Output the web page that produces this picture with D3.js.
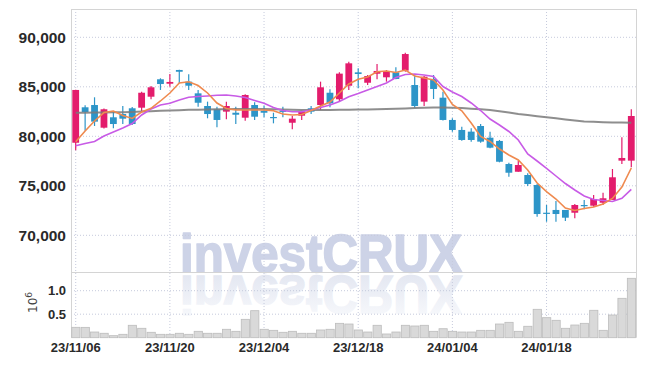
<!DOCTYPE html>
<html><head><meta charset="utf-8">
<script src="https://cdn.jsdelivr.net/npm/d3@7"></script>
<style>body{margin:0;background:#fff}svg{display:block}</style>
</head><body>
<svg id="c" width="645" height="366"></svg>
<script>
const dates = ["23/11/06","23/11/07","23/11/08","23/11/09","23/11/10","23/11/13","23/11/14","23/11/15","23/11/16","23/11/17",
"23/11/20","23/11/21","23/11/22","23/11/23","23/11/24","23/11/27","23/11/28","23/11/29","23/11/30",
"23/12/01","23/12/04","23/12/05","23/12/06","23/12/07","23/12/08","23/12/11","23/12/12","23/12/13","23/12/14","23/12/15",
"23/12/18","23/12/19","23/12/20","23/12/21","23/12/22","23/12/26","23/12/27","23/12/28",
"24/01/02","24/01/03","24/01/04","24/01/05","24/01/08","24/01/09","24/01/10","24/01/11","24/01/12",
"24/01/15","24/01/16","24/01/17","24/01/18","24/01/19","24/01/22","24/01/23","24/01/24","24/01/25","24/01/26",
"24/01/29","24/01/30","24/01/31"];
const open  = [79350,82930,83160,80870,81920,82250,82830,82890,84000,85760,85310,86700,85520,84340,83060,82730,82490,82380,81880,83160,
82590,81950,82590,81370,82080,82830,83160,84400,83740,85110,86460,85410,86320,85960,86460,86630,85180,83500,85790,83900,
81650,80640,80470,81040,79860,79530,77200,76420,76090,75080,72280,72560,72560,72280,73060,72990,73290,73570,77540,77540];
const high  = [84700,83130,83940,82800,82560,83060,82960,84500,85080,85860,86290,86720,86260,84680,83500,82990,83500,82990,84240,83430,
83090,82380,82990,82050,82590,83060,85520,84750,86470,87540,86870,86190,87300,86700,86970,88440,86190,86090,86190,84500,
81820,80970,80810,81240,80460,79630,77330,77540,76260,75180,73060,73470,72560,73160,73570,74070,74300,76700,79900,82730];
const low   = [78600,80570,81040,80800,80810,81240,81140,82480,83740,84680,85010,85350,84680,82990,81820,80910,81720,81240,81580,81650,
81920,81310,81920,80710,81650,82250,82660,82930,83500,84680,84850,85180,85760,85520,85760,86520,82890,83060,83770,81600,
80460,79560,79460,79350,78790,77370,75920,76420,74980,71880,71370,71370,71440,71720,72630,72890,73060,73570,77200,76870];
const close = [84680,82450,81480,82730,81240,81780,81240,84400,84950,85280,85490,86520,85110,83390,82250,81650,83060,82180,84170,81980,
82380,81900,82460,81780,82460,82490,84950,83330,86330,87370,86290,86090,86600,86530,85790,88310,83060,86020,84780,81650,
80640,79630,79630,79460,78850,77430,76320,77100,75180,72150,72180,72150,71780,73060,72990,73670,73740,75860,77810,82050];
const volume = [0.221,0.22,0.121,0.094,0.043,0.072,0.264,0.2,0.115,0.072,0.072,0.094,0.072,0.136,0.094,0.094,0.179,0.136,0.391,0.575,
0.179,0.157,0.115,0.136,0.094,0.094,0.164,0.179,0.306,0.291,0.164,0.121,0.264,0.079,0.121,0.264,0.249,0.264,0.136,0.191,
0.136,0.121,0.121,0.157,0.157,0.291,0.327,0.136,0.243,0.604,0.426,0.37,0.2,0.27,0.306,0.583,0.157,0.483,0.838,1.264];
const maShort = [79450,80540,81545,82400,82556,82100,81800,82455,82828,83566,84374,85384,85515,85131,84374,83364,82808,82657,82657,82657,
82657,82586,82253,82151,82202,82606,83061,83465,84374,85283,85758,85990,86525,86596,86444,86697,86091,85889,85687,84677,
83212,82576,81343,79980,79475,78717,78111,77606,76596,75283,74404,73667,72758,72505,72707,72859,73162,73717,74879,76798];
const maMid = [79050,79273,79475,80030,80434,80838,81293,82151,82758,83162,83333,83667,83939,84020,84071,84141,84172,84071,83919,83616,
83333,82909,82606,82485,82485,82657,82909,83162,83515,84000,84323,84677,85030,85384,85939,86242,86293,86192,86040,85030,
84475,84020,83364,82606,81747,81141,80485,79626,78212,77505,76768,75990,75232,74576,73970,73616,73515,73414,73737,74646];
const maLong = [82380,82390,82400,82410,82420,82430,82460,82500,82540,82580,82610,82640,82670,82690,82710,82730,82740,82750,82760,82760,
82760,82740,82710,82680,82660,82650,82650,82660,82680,82690,82700,82710,82730,82760,82790,82820,82850,82880,82900,82900,
82890,82850,82790,82730,82660,82530,82400,82250,82140,82030,81920,81820,81700,81600,81500,81460,81430,81400,81390,81380];
const priceTicks = [70000,75000,80000,85000,90000];
const volTicks = [0.5,1.0];
const dateTicks = ["23/11/06","23/11/20","23/12/04","23/12/18","24/01/04","24/01/18"];

const L=71, R=636, T=9, PB=272, VB=337.7;
const svg = d3.select("#c");
const x = d3.scaleBand().domain(dates).range([L,R]).padding(0);
const bw = x.bandwidth();
const cx = d => x(d) + bw/2;
const y = d3.scaleLinear().domain([70000,90000]).range([235.3,37.3]);
const yv = d3.scaleLinear().domain([0,1]).range([VB,290.7]);

const defs = svg.append("defs");
defs.append("clipPath").attr("id","pc").append("rect").attr("x",L).attr("y",T).attr("width",R-L).attr("height",PB-T);
const g = defs.append("linearGradient").attr("id","refl").attr("x1",0).attr("y1",1).attr("x2",0).attr("y2",0);
g.append("stop").attr("offset","0%").attr("stop-color","#dfe3ef");
g.append("stop").attr("offset","100%").attr("stop-color","#fafbfd");

// watermark
const wm = svg.append("g");
wm.append("text").attr("x",180).attr("y",272).text("investCRUX")
  .attr("font-family","'Liberation Sans',Arial,sans-serif").attr("font-weight","bold").attr("font-size",53)
  .attr("textLength",282).attr("lengthAdjust","spacingAndGlyphs").attr("fill","#cdd3e7")
  .attr("stroke","#cdd3e7").attr("stroke-width",1.6).attr("stroke-linejoin","round");
wm.append("text").attr("transform","translate(0,548) scale(1,-1)").attr("x",180).attr("y",272).text("investCRUX")
  .attr("font-family","'Liberation Sans',Arial,sans-serif").attr("font-weight","bold").attr("font-size",53)
  .attr("textLength",282).attr("lengthAdjust","spacingAndGlyphs").attr("fill","url(#refl)")
  .attr("stroke","url(#refl)").attr("stroke-width",1.6);

// grid
const gridColor = "#c6cadc";
svg.append("g").selectAll("line").data(priceTicks).join("line")
  .attr("x1",L).attr("x2",R).attr("y1",d=>y(d)).attr("y2",d=>y(d))
  .attr("stroke",gridColor).attr("stroke-dasharray","1,2");
svg.append("g").selectAll("line").data(volTicks).join("line")
  .attr("x1",L).attr("x2",R).attr("y1",d=>yv(d)).attr("y2",d=>yv(d))
  .attr("stroke",gridColor).attr("stroke-dasharray","1,2");
svg.append("g").selectAll("line").data(dateTicks).join("line")
  .attr("x1",d=>cx(d)).attr("x2",d=>cx(d)).attr("y1",T).attr("y2",VB)
  .attr("stroke",gridColor).attr("stroke-dasharray","1,2");

// borders
const bc = "#d4d4d4";
svg.append("path").attr("d",`M${L+0.5},${T} V${VB} M${L},${T+0.5} H${R} M${R+0.5},${T} V${VB} M${L},${PB+0.5} H${R}`)
  .attr("stroke",bc).attr("fill","none");

// volume bars
svg.append("g").selectAll("rect").data(dates).join("rect")
  .attr("x",d=>x(d)+0.75).attr("width",bw-1.2)
  .attr("y",(d,i)=>yv(volume[i])).attr("height",(d,i)=>VB-yv(volume[i]))
  .attr("fill","#d9d9d9").attr("stroke","#bcbcbc").attr("stroke-width",0.8);

// candles
const up = "#e31c6c", down = "#2d95c8";
const cg = svg.append("g").attr("clip-path","url(#pc)");
const cs = cg.selectAll("g").data(dates).join("g");
cs.append("line").attr("x1",cx).attr("x2",cx)
  .attr("y1",(d,i)=>y(high[i])).attr("y2",(d,i)=>y(low[i]))
  .attr("stroke",(d,i)=>close[i]>=open[i]?up:down).attr("stroke-width",1.2);
cs.append("rect").attr("x",d=>cx(d)-3.4).attr("width",6.8)
  .attr("y",(d,i)=>y(Math.max(open[i],close[i])))
  .attr("height",(d,i)=>Math.max(1.2,Math.abs(y(open[i])-y(close[i]))))
  .attr("fill",(d,i)=>close[i]>=open[i]?up:down);

// moving averages
const lineGen = arr => d3.line().x(d=>cx(d)).y((d,i)=>y(arr[i]))(dates);
cg.append("path").attr("d",lineGen(maLong)).attr("fill","none").attr("stroke","#7a7a7a").attr("stroke-opacity",0.85).attr("stroke-width",2);
cg.append("path").attr("d",lineGen(maMid)).attr("fill","none").attr("stroke","#c85be6").attr("stroke-width",1.6);
cg.append("path").attr("d",lineGen(maShort)).attr("fill","none").attr("stroke","#ef8a4f").attr("stroke-width",1.6);

// axes
const font = "'Liberation Sans',Arial,sans-serif";
const ya = svg.append("g").attr("transform",`translate(${L},0)`)
  .call(d3.axisLeft(y).tickValues(priceTicks).tickFormat(d3.format(",")).tickSize(0).tickPadding(5));
ya.select(".domain").remove();
ya.selectAll("text").attr("font-family",font).attr("font-weight","bold").attr("font-size",15.5).attr("fill","#2a2a2a");

const va = svg.append("g").attr("transform",`translate(${L},0)`)
  .call(d3.axisLeft(yv).tickValues(volTicks).tickFormat(d3.format(".1f")).tickSize(0).tickPadding(5));
va.select(".domain").remove();
va.selectAll("text").attr("font-family",font).attr("font-weight","bold").attr("font-size",13).attr("fill","#2a2a2a");

const xa = svg.append("g").attr("transform",`translate(0,${VB})`)
  .call(d3.axisBottom(x).tickValues(dateTicks).tickSize(0).tickPadding(5));
xa.select(".domain").remove();
xa.selectAll("text").attr("font-family",font).attr("font-weight","bold").attr("font-size",13).attr("fill","#2a2a2a");

// volume unit label
const ul = svg.append("text").attr("transform","translate(37,313) rotate(-90)")
  .attr("font-family","'DejaVu Sans',sans-serif").attr("font-size",12).attr("fill","#444");
ul.append("tspan").text("10");
ul.append("tspan").attr("dy",-5).attr("font-size",9).text("6");
</script>
</body></html>
